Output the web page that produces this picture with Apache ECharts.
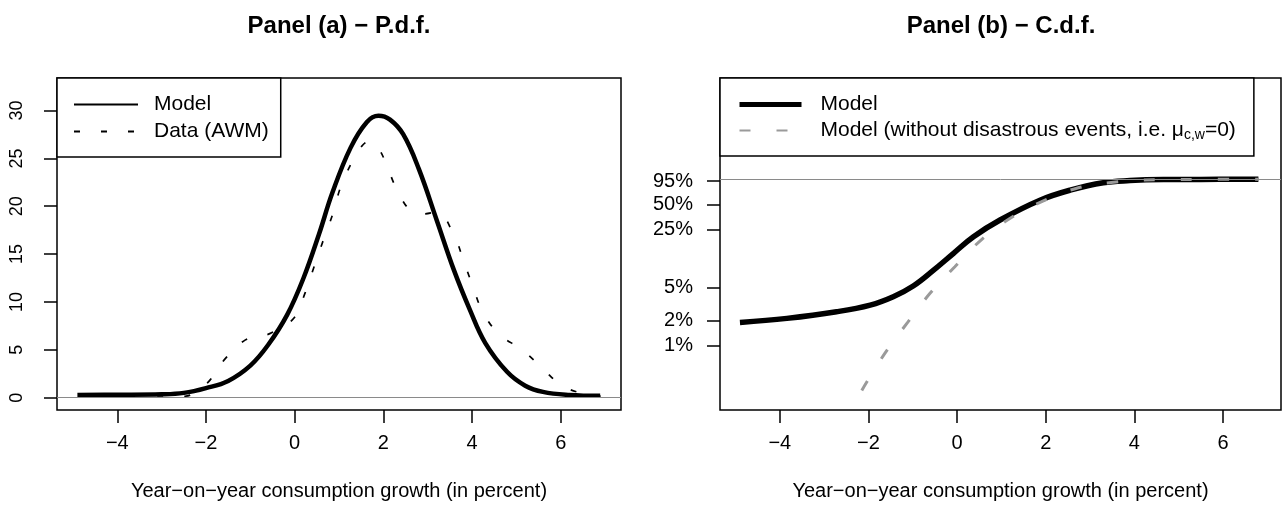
<!DOCTYPE html>
<html>
<head>
<meta charset="utf-8">
<title>Consumption growth: p.d.f. and c.d.f.</title>
<script src="https://cdn.jsdelivr.net/npm/echarts@6/dist/echarts.min.js"></script>
<style>
  html, body { margin: 0; padding: 0; background: #fff; }
  #chart { width: 1282px; height: 512px; }
</style>
</head>
<body>
<div id="chart"></div>
<script>
// Tick positions
const xTicks = [-4, -2, 0, 2, 4, 6];
const pdfTicks = [0, 5, 10, 15, 20, 25, 30];
const cdfTicks = [1, 2, 5, 25, 50, 95];

// Panel (a): model density of year-on-year consumption growth
const pdfModelX = [-4.9, -4.0, -3.0, -2.5, -2.0, -1.5, -1.0, -0.6, -0.17, 0.2, 0.55, 0.85, 1.26, 1.63, 1.89, 2.15, 2.45, 2.8, 3.2, 3.59, 3.95, 4.3, 4.79, 5.2, 5.6, 6.2, 6.89];
const pdfModelY = [0.28, 0.3, 0.35, 0.5, 1.0, 1.75, 3.35, 5.5, 8.65, 12.5, 17.1, 21.4, 26.1, 28.8, 29.45, 29.05, 27.5, 23.9, 18.6, 13.35, 9.2, 5.7, 2.7, 1.25, 0.6, 0.28, 0.19];

// Panel (a): empirical density (AWM data)
const pdfDataX = [-3.1, -2.46, -2.2, -1.94, -1.56, -1.11, -0.8, -0.51, -0.02, 0.24, 0.44, 0.65, 0.86, 1.03, 1.29, 1.5, 1.69, 1.88, 2.05, 2.29, 2.63, 2.92, 3.21, 3.59, 3.81, 4.02, 4.25, 4.62, 5.13, 5.58, 6.05, 6.63, 6.9];
const pdfDataY = [0.05, 0.15, 0.7, 1.67, 4.1, 6.04, 6.35, 6.8, 8.3, 11.0, 13.7, 16.5, 19.2, 21.9, 24.6, 26.2, 26.8, 26.1, 24.6, 21.9, 19.5, 19.2, 19.4, 17.0, 14.3, 11.6, 8.9, 6.6, 5.0, 3.1, 1.2, 0.3, 0.15];

// Panel (b): model c.d.f., in percent
const cdfModelX = [-4.9, -3.84, -2.72, -1.96, -1.44, -0.99, -0.53, -0.08, 0.37, 0.97, 1.87, 2.55, 3.3, 3.9, 4.66, 5.5, 6.8];
const cdfModelY = [1.9, 2.13, 2.56, 3.08, 3.88, 5.22, 8.1, 12.9, 20.4, 32.4, 56, 74, 91, 96.5, 99.3, 99.8, 100];

// Panel (b): model c.d.f. without disastrous events, in percent
const cdfNoDisX = [-2.15, -1.63, -1.12, -0.61, -0.05, 0.56, 1.2, 1.91, 2.7, 3.53, 4.5, 5.5, 6.8];
const cdfNoDisY = [0.29, 0.81, 1.89, 4.26, 8.9, 19, 34, 54, 78, 92, 98.8, 99.8, 100];

const zip = (xs, ys) => xs.map((x, i) => [x, ys[i]]);
const font = '"Liberation Sans", Arial, Helvetica, sans-serif';
const fmtTick = v => (v < 0 ? '\u2212' + Math.abs(v) : String(v));

const legendNames = {
  'Model (pdf)': 'Model',
  'Data (AWM)': 'Data (AWM)',
  'Model (cdf)': 'Model',
  'Model (no disasters)': 'Model (without disastrous events, i.e. \u03bc{sub|c,w}=0)'
};

const tickStyle = { color: '#000', width: 1.5 };

function xAxisFor(gridIndex, min, max) {
  return {
    type: 'value', gridIndex, min, max,
    axisLine: { show: false, onZero: false },
    splitLine: { show: false },
    axisTick: { show: true, inside: false, length: 13, lineStyle: tickStyle, customValues: xTicks },
    axisLabel: { customValues: xTicks, formatter: fmtTick, color: '#000', fontSize: 20, fontFamily: font, margin: 23 },
    name: 'Year\u2212on\u2212year consumption growth (in percent)',
    nameLocation: 'middle', nameGap: 71, nameMoveOverlap: false,
    nameTextStyle: { color: '#000', fontSize: 20, fontFamily: font }
  };
}

const markZero = (value) => ({
  silent: true, animation: false,
  symbol: ['none', 'none'],
  label: { show: false },
  lineStyle: { color: '#8a8a8a', width: 1, type: 'solid' },
  data: [{ yAxis: value }]
});

const chart = echarts.init(document.getElementById('chart'), null, { renderer: 'canvas' });

chart.setOption({
  animation: false,
  backgroundColor: '#fff',
  title: [
    { text: 'Panel (a) \u2212 P.d.f.', left: 339, top: 14, textAlign: 'center', padding: 0,
      textStyle: { fontSize: 24, fontWeight: 'bold', fontFamily: font, color: '#000' } },
    { text: 'Panel (b) \u2212 C.d.f.', left: 1001, top: 14, textAlign: 'center', padding: 0,
      textStyle: { fontSize: 24, fontWeight: 'bold', fontFamily: font, color: '#000' } }
  ],
  legend: [
    {
      data: [{ name: 'Model (pdf)', lineStyle: { width: 2 } }, { name: 'Data (AWM)' }],
      orient: 'vertical', left: 57, top: 78,
      padding: [16, 12, 15, 16], itemWidth: 64, itemHeight: 14, itemGap: 6,
      borderColor: '#000', borderWidth: 1.5, backgroundColor: '#fff',
      selectedMode: false, itemStyle: { opacity: 0 },
      formatter: n => legendNames[n],
      textStyle: { color: '#000', fontSize: 21, fontFamily: font, lineHeight: 21, padding: [0, 0, 0, 11] }
    },
    {
      data: [{ name: 'Model (cdf)', lineStyle: { width: 5 } }, { name: 'Model (no disasters)' }],
      orient: 'vertical', left: 720, top: 78,
      padding: [16, 18, 14, 17], itemWidth: 62, itemHeight: 14, itemGap: 4,
      borderColor: '#000', borderWidth: 1.5, backgroundColor: '#fff',
      selectedMode: false, itemStyle: { opacity: 0 },
      formatter: n => legendNames[n],
      textStyle: {
        color: '#000', fontSize: 21, fontFamily: font, lineHeight: 21, padding: [0, 0, 0, 14],
        rich: { sub: { fontSize: 14, fontFamily: font, color: '#000', lineHeight: 14, padding: [9, 0, 0, 0] } }
      }
    }
  ],
  grid: [
    { left: 57, top: 78, width: 564, height: 332, show: true, borderColor: '#000', borderWidth: 1.5,
      backgroundColor: 'transparent', containLabel: false, outerBoundsMode: 'none' },
    { left: 720, top: 78, width: 561, height: 332, show: true, borderColor: '#000', borderWidth: 1.5,
      backgroundColor: 'transparent', containLabel: false, outerBoundsMode: 'none' }
  ],
  xAxis: [xAxisFor(0, -5.36, 7.36), xAxisFor(1, -5.35, 7.31)],
  yAxis: [
    {
      type: 'value', gridIndex: 0, min: -1.29, max: 33.4,
      axisLine: { show: false, onZero: false }, splitLine: { show: false },
      axisTick: { show: true, inside: false, length: 13, lineStyle: tickStyle, customValues: pdfTicks },
      axisLabel: { customValues: pdfTicks, rotate: 90, color: '#000', fontSize: 18, fontFamily: font, margin: 31 }
    },
    {
      type: 'log', logBase: 10, gridIndex: 1, min: 0.1687, max: 1651,
      axisLine: { show: false, onZero: false }, splitLine: { show: false },
      axisTick: { show: true, inside: false, length: 13, lineStyle: tickStyle, customValues: cdfTicks },
      axisLabel: { customValues: cdfTicks, formatter: v => Math.round(v) + '%', color: '#000', fontSize: 20, fontFamily: font, margin: 27 }
    }
  ],
  series: [
    {
      name: 'Model (pdf)', type: 'line', xAxisIndex: 0, yAxisIndex: 0,
      data: zip(pdfModelX, pdfModelY), smooth: 0.4,
      symbol: 'none', lineStyle: { color: '#000', width: 4.5 }, itemStyle: { color: '#000' },
      markLine: markZero(0), z: 3
    },
    {
      name: 'Data (AWM)', type: 'line', xAxisIndex: 0, yAxisIndex: 0,
      data: zip(pdfDataX, pdfDataY), smooth: 0.4,
      symbol: 'none', lineStyle: { color: '#000', width: 1.7, type: [6, 21] }, itemStyle: { color: '#000' },
      z: 4
    },
    {
      name: 'Model (cdf)', type: 'line', xAxisIndex: 1, yAxisIndex: 1,
      data: zip(cdfModelX, cdfModelY), smooth: 0.4,
      symbol: 'none', lineStyle: { color: '#000', width: 5.5 }, itemStyle: { color: '#000' },
      markLine: markZero(100), z: 3
    },
    {
      name: 'Model (no disasters)', type: 'line', xAxisIndex: 1, yAxisIndex: 1,
      data: zip(cdfNoDisX, cdfNoDisY), smooth: 0.4,
      symbol: 'none', lineStyle: { color: '#9a9a9a', width: 3, type: [11, 26] }, itemStyle: { color: '#9a9a9a' },
      z: 4
    }
  ]
});
</script>
</body>
</html>
